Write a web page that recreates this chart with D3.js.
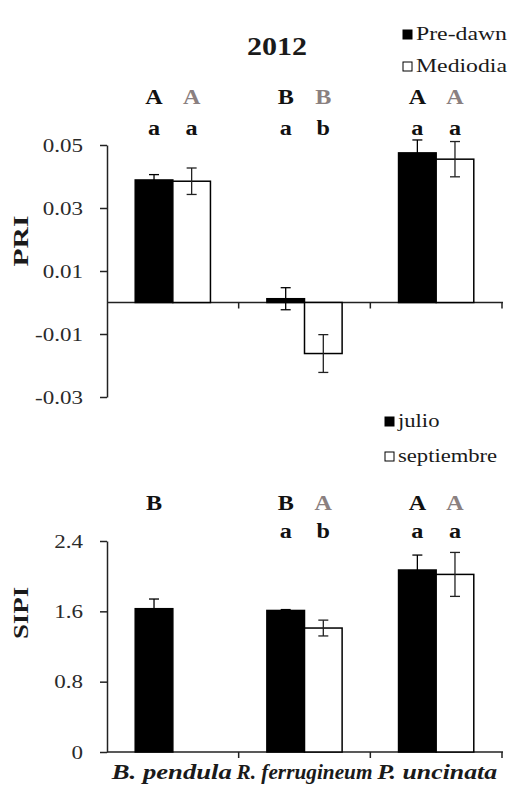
<!DOCTYPE html>
<html>
<meta charset="utf-8">
<title>PRI / SIPI 2012</title>
<style>
	body { margin: 0; background-color: #ffffff; }
	svg text { font-family: "Liberation Serif", "DejaVu Serif", serif; fill: #1a1a1a; }
	.axis path, .axis line { stroke: #222; stroke-width: 1.5; }
</style>
<body>
<div id="chart"></div>
<script src="https://cdnjs.cloudflare.com/ajax/libs/d3/7.8.5/d3.min.js"></script>
<script>

	// Data
	var categories = ["B. pendula", "R. ferrugineum", "P. uncinata"];

	var priSeries = ["Pre-dawn", "Mediodia"];
	var priPredawn = [0.0389, 0.0012, 0.0475];
	var priPredawnErr = [0.0017, 0.0035, 0.0041];
	var priMediodia = [0.0385, -0.0162, 0.0455];
	var priMediodiaErr = [0.0042, 0.0060, 0.0056];
	var priTicks = [-0.03, -0.01, 0.01, 0.03, 0.05];
	var priUpper = [["A", "A"], ["B", "B"], ["A", "A"]];
	var priLower = [["a", "a"], ["a", "b"], ["a", "a"]];

	var sipiSeries = ["julio", "septiembre"];
	var sipiJulio = [1.63, 1.61, 2.07];
	var sipiJulioErr = [0.11, 0.01, 0.17];
	var sipiSept = [null, 1.41, 2.02];
	var sipiSeptErr = [null, 0.09, 0.25];
	var sipiTicks = [0, 0.8, 1.6, 2.4];
	var sipiUpper = [["B", ""], ["B", "A"], ["A", "A"]];
	var sipiLower = [["", ""], ["a", "b"], ["a", "a"]];

	var W = 511, H = 788;
	var fam = "'Liberation Serif', 'DejaVu Serif', serif";
	var sx = 1.28; // horizontal stretch of the lettering
	var grey = "#8a8080";
	var catLabelWidth = [120, 136, 120];
	var catLabelShift = [-1, 0, 1];

	var svg = d3.select("#chart").append("svg")
		.attr("width", W)
		.attr("height", H);

	// write a stretched text
	function txt(g, x, y, s, size, opts) {
		opts = opts || {};
		var t = g.append("text")
			.attr("transform", "translate(" + x + "," + y + ")" + (opts.rotate ? " rotate(" + opts.rotate + ")" : "") + " scale(" + (opts.sx || sx) + ",1)")
			.attr("text-anchor", opts.anchor || "start")
			.style("font-family", fam)
			.style("font-size", size + "px")
			.text(s);
		if (opts.bold) t.style("font-weight", "bold");
		if (opts.italic) t.style("font-style", "italic");
		if (opts.fill) t.style("fill", opts.fill);
		return t;
	}

	var xBand = d3.scaleBand().domain(categories).range([107, 502]);

	function panel(cfg) {
		var g = svg.append("g");
		var y = d3.scaleLinear().domain(cfg.domain).range(cfg.range);
		var xSub = d3.scaleBand().domain(cfg.series).range([0, xBand.bandwidth()]).paddingOuter(0.75);
		var bw = xSub.bandwidth();

		// y axis
		var yAxis = d3.axisLeft(y).tickValues(cfg.ticks).tickSize(7).tickSizeOuter(0).tickFormat(cfg.format);
		var ya = g.append("g").attr("class", "axis").attr("transform", "translate(107,0)").call(yAxis);
		ya.selectAll("text")
			.attr("x", null).attr("dy", "0.35em")
			.attr("transform", "translate(-24,0) scale(" + sx + ",1)")
			.style("font-size", "18px").style("font-family", fam).style("fill", "#2a2a2a");

		// x axis line at zero with ticks between categories
		var y0 = y(0);
		g.append("line").attr("x1", 107).attr("x2", xBand.range()[1] + 1)
			.attr("y1", y0).attr("y2", y0)
			.attr("stroke", "#222").attr("stroke-width", 1.5);
		g.selectAll(".xtick").data(categories).enter().append("line")
			.attr("x1", function (d) { return xBand(d) + xBand.bandwidth(); })
			.attr("x2", function (d) { return xBand(d) + xBand.bandwidth(); })
			.attr("y1", y0).attr("y2", y0 + 6)
			.attr("stroke", "#222").attr("stroke-width", 1.5);

		// bars
		cfg.series.forEach(function (s, si) {
			var vals = cfg.values[si], errs = cfg.errors[si];
			categories.forEach(function (c, ci) {
				var v = vals[ci];
				if (v === null) return;
				var x = xBand(c) + xSub(s);
				g.append("rect")
					.attr("x", x)
					.attr("y", Math.min(y(v), y0))
					.attr("width", bw)
					.attr("height", Math.abs(y(v) - y0))
					.attr("fill", si === 0 ? "#000" : "#fff")
					.attr("stroke", "#000")
					.attr("stroke-width", 1.5);
				var e = errs[ci], cx = x + bw / 2;
				var ec = si === 0 ? "#000" : "#222";
				g.append("line").attr("x1", cx).attr("x2", cx)
					.attr("y1", y(v + e)).attr("y2", y(v - e))
					.attr("stroke", ec).attr("stroke-width", 1.3);
				[v + e, v - e].forEach(function (ev) {
					g.append("line").attr("x1", cx - 5).attr("x2", cx + 5)
						.attr("y1", y(ev)).attr("y2", y(ev))
						.attr("stroke", ec).attr("stroke-width", 1.3);
				});
			});
		});

		// significance letters
		categories.forEach(function (c, ci) {
			cfg.series.forEach(function (s, si) {
				var cx = xBand(c) + xSub(s) + bw / 2;
				var up = cfg.upper[ci][si], lo = cfg.lower[ci][si];
				if (up) txt(g, cx, cfg.upperY, up, 21, { anchor: "middle", bold: true, fill: si === 0 ? "#111" : grey, sx: 1.15 });
				if (lo) txt(g, cx, cfg.lowerY, lo, 21, { anchor: "middle", bold: true, fill: "#111", sx: 1.15 });
			});
		});

		// y label
		txt(g, 28, cfg.labelY, cfg.label, 22, { anchor: "middle", bold: true, rotate: -90, sx: cfg.labelSx });

		// legend
		cfg.series.forEach(function (s, si) {
			var ly = cfg.legendY[si];
			g.append("rect")
				.attr("x", cfg.legendX).attr("y", ly - 10)
				.attr("width", 9).attr("height", 9)
				.attr("fill", si === 0 ? "#000" : "#fff")
				.attr("stroke", "#000").attr("stroke-width", 1);
			txt(g, cfg.legendX + 13, ly, s, 19, { sx: cfg.legendSx });
		});
		return g;
	}

	panel({
		domain: [-0.03, 0.05], range: [397, 145],
		series: priSeries,
		values: [priPredawn, priMediodia],
		errors: [priPredawnErr, priMediodiaErr],
		ticks: priTicks,
		format: function (d) { return d.toFixed(2); },
		upper: priUpper, lower: priLower,
		upperY: 104, lowerY: 135,
		label: "PRI", labelY: 241, labelSx: 1.35,
		legendX: 403, legendY: [40, 72], legendSx: 1.25
	});

	panel({
		domain: [0, 2.4], range: [752, 541],
		series: sipiSeries,
		values: [sipiJulio, sipiSept],
		errors: [sipiJulioErr, sipiSeptErr],
		ticks: sipiTicks,
		format: function (d) { return d === 0 ? "0" : d.toFixed(1); },
		upper: sipiUpper, lower: sipiLower,
		upperY: 510, lowerY: 538,
		label: "SIPI", labelY: 613, labelSx: 1.22,
		legendX: 385, legendY: [427, 462], legendSx: 1.19
	});

	// title
	txt(svg, 277, 55, "2012", 25, { anchor: "middle", bold: true, sx: 1.2 });

	// category labels
	categories.forEach(function (c, i) {
		var cx = xBand(c) + xBand.bandwidth() / 2 + catLabelShift[i];
		svg.append("text")
			.attr("x", cx).attr("y", 779)
			.attr("text-anchor", "middle")
			.attr("textLength", catLabelWidth[i])
			.attr("lengthAdjust", "spacingAndGlyphs")
			.style("font-family", fam)
			.style("font-size", "21px")
			.style("font-weight", "bold")
			.style("font-style", "italic")
			.text(c);
	});

</script>
</body>
</html>
